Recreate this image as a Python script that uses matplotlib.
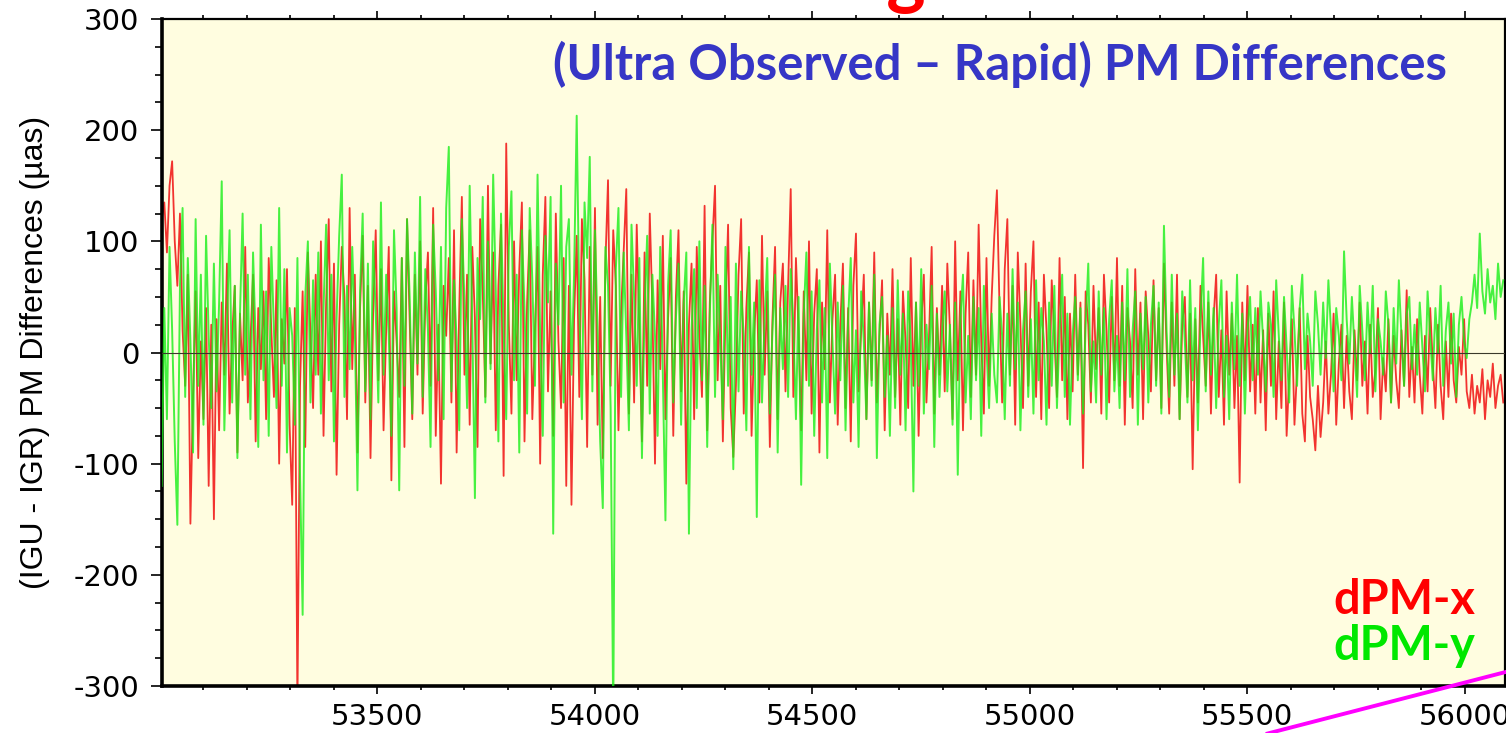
import numpy as np
import matplotlib
matplotlib.use("Agg")
import matplotlib.pyplot as plt
from matplotlib.lines import Line2D
from matplotlib.ticker import MultipleLocator

plt.rcParams['axes.unicode_minus'] = False

# ---------------- data ----------------
START_MJD = 53005      # first sample (MJD)
STEP_DAYS = 6          # sampling step used when reading the curves

# dPM-x (IGU - IGR), micro-arcseconds
dpm_x = [
    120, 135, 90, 150, 172, 100, 60, 125, 20, -30, 70, -154, -40, 55, -95, 10, -60, 40, -120, 25,
    -150, 30, -70, 45, -20, 80, -55, 15, 60, -90, 35, -25, 95, -45, 10, 70, -80, 40, -15, 55,
    -60, 85, 20, -40, 65, -100, 30, -10, 75, -65, -137, 40, -320, -30, 55, -85, 90, 15, -50, 70,
    -20, 100, -75, 45, 120, -35, 80, -110, 25, 95, 50, -60, 130, -15, 70, -90, 40, 105, -45, 60,
    -95, 35, 110, -25, 75, -70, 20, 95, -115, 55, 10, -40, 85, -85, 120, 30, -60, 70, -20, 100,
    -55, 45, 90, -30, 130, -75, 25, -118, 60, 15, 85, -45, 110, -90, 40, 140, -20, 70, -65, 95,
    30, -85, 120, 55, -40, 150, -10, 90, -70, 60, 115, -111, 188, 25, -55, 100, -25, 75, 135, -80,
    45, 110, -60, 20, 95, -100, 70, 140, -35, 55, -75, 125, 10, -50, 85, -120, 60, -137, 30, 105,
    -40, 120, 65, -85, 95, -20, 130, -65, 50, -95, 80, 155, -30, 110, 60, -70, 35, 90, 147, -55,
    70, -45, 115, 20, -80, 90, -30, 125, 40, -100, 65, -15, 105, -60, 30, 85, -75, 50, 110, -35,
    55, -118, 25, 80, -60, 95, 15, -40, 132, -70, 45, 100, 150, -25, 60, -80, 35, 115, -50, -94,
    -30, 70, 120, -55, 40, 90, -75, 15, 65, -45, 105, -20, 55, -85, 30, 95, -60, 45, 80, -35,
    60, 147, -40, 85, 20, -70, 55, -25, 100, -55, 35, 75, -90, 45, -15, 110, -45, 30, 70, -65,
    25, 80, -50, 40, -80, 60, 107, -35, 20, 70, -60, 45, -25, 90, -45, 15, 65, -70, 35, -20,
    75, -40, 30, -65, 55, 10, -50, 85, -30, 45, -75, 25, 70, -45, 15, 95, -55, 40, -20, 60,
    -35, 80, 20, -60, 100, -25, 55, -70, 35, 90, -40, 65, -20, 115, 10, -55, 85, -30, 50, 105,
    146, 40, -45, 75, 120, -20, 60, -65, 90, 25, -50, 80, -30, 55, 100, -40, 45, -60, 70, 20,
    -50, 65, 15, -40, 85, -25, 50, -60, 35, -35, 70, -20, 45, -104, 55, 25, -45, 60, -15, 40,
    -55, 70, 20, -45, 50, -25, 85, -30, 60, -65, 40, 10, -50, 75, -20, 45, -60, 55, 15, -35,
    65, -25, 40, -50, 80, 5, -55, 45, -30, 70, -60, 25, 50, -40, 35, -105, 30, -45, 60, 15,
    -30, 45, -55, 30, 70, -40, 20, -65, 55, -20, 35, -50, 15, -117, 45, -25, 60, -35, 25, -55,
    40, -45, 20, -70, 35, -30, 55, -60, 10, -50, 45, -75, -20, 30, -65, -15, 40, -55, -80, 15,
    -40, -60, -88, -30, -76, -45, 10, -55, -20, 35, -65, -10, 25, -50, 15, -35, -60, 20, -25, 45,
    -30, 10, -55, 25, -40, -15, 40, -60, -5, -35, 30, -45, 15, -25, -50, 20, -30, 56, -40, 5,
    -45, 30, -20, -55, 15, -35, 40, -10, -50, 25, -30, -60, 10, -40, 35, -25, -45, 5, -20, 30,
    -35, -50, -20, -55, -30, -45, -15, -60, -25, -40, -10, -50, -30, -20, -45,
]

# dPM-y (IGU - IGR), micro-arcseconds
dpm_y = [
    -120, 40, -60, 95, 20, -80, -155, 60, 130, -40, 85, 10, -90, 120, -30, 70, -65, 105, 15, -50,
    80, -35, 45, 154, -70, 25, 110, -45, 60, -95, 35, 125, -20, 70, -60, 90, 10, -85, 115, -25,
    55, -75, 95, 20, -50, 130, -30, 75, -90, 40, 15, -65, 85, -110, -236, 50, 100, -45, 65, -20,
    90, -55, 40, 115, -25, 70, -80, 30, 105, 160, -40, 60, -15, 95, 20, -124, 55, 125, -35, 80,
    -60, 100, 35, -45, 135, -20, 70, 15, -75, 110, 40, -124, 85, -30, 120, 50, -55, 90, -10, 140,
    -40, 75, 20, -85, 115, 55, -25, 95, -60, 130, 185, -35, 65, 10, -70, 120, 45, -50, 150, 25,
    -131, 85, 30, 140, -45, 100, -15, 160, 55, -80, 125, 20, -60, 95, 145, -25, 70, -90, 110, 40,
    -55, 130, 65, -30, 160, 15, -75, 105, 45, 140, -163, 80, 25, 150, -45, 95, 120, -20, 70, 213,
    40, -60, 135, 85, 176, -35, 110, 20, -80, -140, 95, 60, -50, -330, 75, 130, -40, 90, 15, -70,
    115, 50, -30, 85, -95, 40, 105, -55, 70, 15, -75, 95, -20, -151, 60, 110, -45, 30, 80, -65,
    45, 90, -163, 20, 75, -50, 100, -25, 60, -85, 35, 115, -40, 70, 10, -60, 95, -30, 50, -105,
    80, -35, 55, 15, -70, 95, -20, 45, -148, 65, -45, 30, 85, -55, 20, 70, -90, 40, -15, 60,
    -40, 75, 25, -60, 50, -119, 35, 90, -30, 55, -75, 20, 65, -45, 40, -95, 80, 10, -55, 45,
    -25, 60, -70, 30, 85, -45, 20, -85, 55, 10, -60, 45, -30, 70, -95, 25, 50, -40, 15, -75,
    40, -50, 65, -20, 35, -70, 55, 10, -125, 45, -30, 75, -55, 25, -15, 60, -85, 35, -40, 20,
    55, -35, 25, -65, 45, -110, 30, 70, -45, 15, -60, 50, -25, 40, -75, 60, 5, -50, 35, -20,
    -45, 50, 15, -60, 35, -30, 75, -15, 45, -70, 20, 55, -40, 30, -55, 65, -25, 40, 10, -65,
    45, -30, 60, -50, 20, 70, -40, 35, -65, 15, 50, -25, 40, -55, 25, 80, -35, 10, -45, 55,
    -20, 40, -60, 30, 65, -35, 15, -50, 45, -25, 75, -40, 20, 55, -65, 35, -15, 50, -45, 25,
    60, -30, 45, -55, 114, 20, -40, 70, -20, 35, -60, 55, 10, -45, 65, -25, 40, -70, 30, 85,
    -35, 55, -20, 40, -50, 25, 65, -40, 15, -60, 45, -15, 70, -30, 35, -55, 20, 50, -25, 40,
    -20, 55, 10, -35, 45, 25, -40, 65, 15, -25, 50, 5, -45, 60, 20, -30, 40, 70, -15, 35,
    10, -30, 55, 25, -20, 45, -5, 65, 20, -35, 40, 15, -25, 91, 30, -10, 50, 5, -40, 60,
    20, -25, 45, 0, 60, -35, 30, 10, -20, 55, 25, -45, 40, -10, 65, 15, -30, 35, 50, -15,
    25, -20, 45, 5, -35, 55, 15, -25, 40, 0, 60, -30, 20, 45, -10, 35, -40, 25, 50, 10,
    -5, 30, 45, 70, 40, 107, 55, 35, 75, 45, 60, 30, 80, 50, 65,
]

x_ticks = [53500, 54000, 54500, 55000, 55500, 56000]
y_ticks = [-300, -200, -100, 0, 100, 200, 300]
X_RANGE = (53005, 56093)
Y_RANGE = (-300, 300)

series_labels = ["dPM-x", "dPM-y"]
panel_title = "(Ultra Observed \u2013 Rapid) PM Differences"
slide_title = "IGU Polar Motion Long-term Performance"
y_label = "(IGU - IGR) PM Differences (\u00b5as)"

# ---------------- figure ----------------
W, H = 1506, 733
fig = plt.figure(figsize=(W / 100, H / 100), dpi=100)
fig.patch.set_facecolor("white")

L, R, T, B = 161.7, 1505.0, 19.0, 686.0
ax = fig.add_axes([L / W, 1 - B / H, (R - L) / W, (B - T) / H])
ax.set_facecolor("#FFFDE0")

mjd_x = START_MJD + STEP_DAYS * np.arange(len(dpm_x))
mjd_y = START_MJD + STEP_DAYS * np.arange(len(dpm_y))

ax.plot(mjd_x, dpm_x, color="#F01010", lw=1.3, alpha=0.85, zorder=2)
ax.plot(mjd_y, dpm_y, color="#18EE18", lw=1.4, alpha=0.8, zorder=3)
ax.axhline(0, color="#3a3a2a", lw=0.8, zorder=4)

ax.set_xlim(*X_RANGE)
ax.set_ylim(*Y_RANGE)
ax.set_xticks(x_ticks)
ax.set_yticks(y_ticks)
ax.xaxis.set_minor_locator(MultipleLocator(100))
ax.yaxis.set_minor_locator(MultipleLocator(25))

for side, lw in (("left", 2.6), ("bottom", 2.6), ("top", 1.6), ("right", 1.6)):
    ax.spines[side].set_linewidth(lw)
    ax.spines[side].set_color("black")

ax.tick_params(axis="x", which="both", direction="out", top=True, bottom=True,
               labelbottom=True, labeltop=False, width=1.2)
ax.tick_params(axis="x", which="major", length=6, pad=6)
ax.tick_params(axis="x", which="minor", length=3)
ax.tick_params(axis="y", which="both", direction="out", left=True, right=False, width=1.2)
ax.tick_params(axis="y", which="major", length=8, pad=8)
ax.tick_params(axis="y", which="minor", length=5)

for lab in ax.get_xticklabels() + ax.get_yticklabels():
    lab.set_family("DejaVu Sans")
    lab.set_fontsize(21)

ax.set_ylabel(y_label, family=["Liberation Sans", "DejaVu Sans"], fontsize=23,
              va="center")
ax.yaxis.set_label_coords((35 - L) / (R - L), 0.5)

# panel heading (inside the plot)
t_panel = fig.text(1447 / W, 1 - 80 / H, panel_title, ha="right", va="baseline",
                   color="#3636C6", fontsize=32, fontweight="bold",
                   family=["Lato", "DejaVu Sans"])

# series labels bottom right
t_x = fig.text(1475 / W, 1 - 614 / H, series_labels[0], ha="right", va="baseline",
               color="#FF0000", fontsize=30, fontweight="bold",
               family=["Lato", "DejaVu Sans"])
t_y = fig.text(1475 / W, 1 - 660 / H, series_labels[1], ha="right", va="baseline",
               color="#00E800", fontsize=30, fontweight="bold",
               family=["Lato", "DejaVu Sans"])

# slide title: only the lowest few pixels of it are inside the picture
t_slide = fig.text(0.57, 1 - 14 / H, slide_title, ha="center", va="bottom",
                   color="#FF0000", fontsize=44, fontweight="bold",
                   family=["Lato", "DejaVu Sans"])

# magenta pointer line crossing the bottom-right corner
x0, y0, x1, y1 = 1258.0, 736.0, 1520.0, 668.3
fig.add_artist(Line2D([x0 / W, x1 / W], [1 - y0 / H, 1 - y1 / H],
                      transform=fig.transFigure, color="#FF00FF", lw=2.8,
                      solid_capstyle="butt", zorder=10))

# fit text widths to the reference
fig.canvas.draw()
rend = fig.canvas.get_renderer()
def fit(t, target):
    w = t.get_window_extent(rend).width
    t.set_fontsize(t.get_fontsize() * target / w)
fit(t_panel, 894)
fit(t_x, 142)
fit(t_y, 142)
fit(t_slide, 1400)

fig.savefig("out.png", dpi=100)
